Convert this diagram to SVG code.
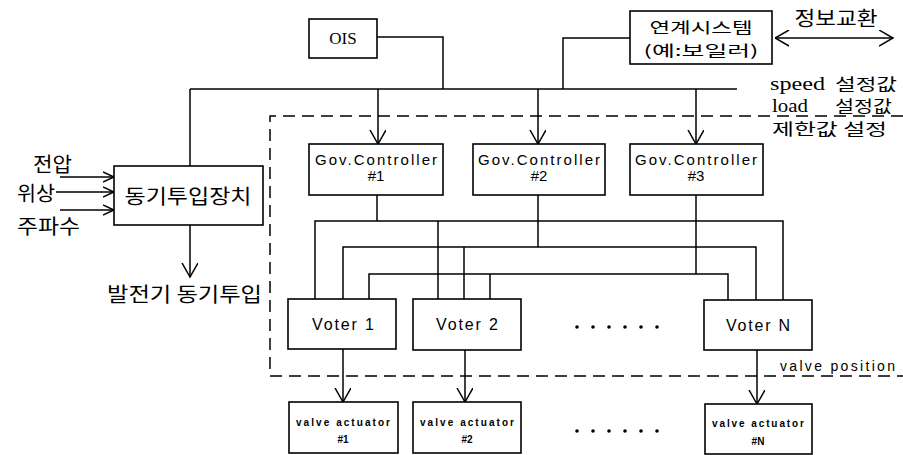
<svg xmlns="http://www.w3.org/2000/svg" width="903" height="455" viewBox="0 0 903 455">
<defs>
<style>
.box{fill:#fff;stroke:#000;stroke-width:1.6}
.ln{fill:none;stroke:#000;stroke-width:1.5}
.dash{fill:none;stroke:#000;stroke-width:1.5;stroke-dasharray:12 7}
.kr{font-family:"Noto Sans CJK KR","Noto Sans",sans-serif;font-size:20px;fill:#000}
.krs{font-family:"Noto Sans CJK KR","Noto Sans",sans-serif;font-size:16px;fill:#000}
.krx{font-family:"Noto Sans CJK KR","Noto Sans",sans-serif;font-size:15px;fill:#000}
.sr{font-family:"Liberation Serif",serif;fill:#000}
.ss{font-family:"Liberation Sans",Arial,sans-serif;fill:#000}
.gov{font-size:15px}
.vot{font-size:16px}
.va{font-size:10px;font-weight:bold}
.dot{fill:#000}
</style>
<marker id="ah" markerWidth="20" markerHeight="20" refX="14" refY="8" orient="auto" markerUnits="userSpaceOnUse">
<path d="M0,0 L14,8 L0,16" fill="none" stroke="#000" stroke-width="1.5"/>
</marker>
<marker id="ahs" markerWidth="14" markerHeight="14" refX="11" refY="6" orient="auto" markerUnits="userSpaceOnUse">
<path d="M0,1 L11,6 L0,11" fill="none" stroke="#000" stroke-width="1.4"/>
</marker>
<marker id="ahr" markerWidth="20" markerHeight="20" refX="0" refY="8" orient="auto" markerUnits="userSpaceOnUse">
<path d="M14,0 L0,8 L14,16" fill="none" stroke="#000" stroke-width="1.5"/>
</marker>
</defs>
<rect width="903" height="455" fill="#fff"/>

<!-- dashed boundary -->
<path class="dash" d="M903,116 L270,116 L270,376 L903,376"/>

<g id="connectors">
<path class="ln" d="M190,89 L737,89"/>
<path class="ln" d="M377,37 L443,37 L443,89"/>
<path class="ln" d="M630,38 L563,38 L563,89"/>
<path class="ln" d="M190,89 L190,166"/>
<path class="ln" d="M775,38 L893,38" marker-start="url(#ahr)" marker-end="url(#ah)"/>
<path class="ln" d="M378,89 L378,144" marker-end="url(#ah)"/>
<path class="ln" d="M538,89 L538,144" marker-end="url(#ah)"/>
<path class="ln" d="M696,89 L696,144" marker-end="url(#ah)"/>
<path class="ln" d="M60,177 L114,177" marker-end="url(#ahs)"/>
<path class="ln" d="M56,192 L114,192" marker-end="url(#ahs)"/>
<path class="ln" d="M60,210 L114,210" marker-end="url(#ahs)"/>
<path class="ln" d="M190,225 L190,277" marker-end="url(#ah)"/>
<path class="ln" d="M377,195 L377,221"/>
<path class="ln" d="M315,299 L315,221 L783,221 L783,300"/>
<path class="ln" d="M438,221 L438,299"/>
<path class="ln" d="M538,195 L538,247"/>
<path class="ln" d="M343,299 L343,247 L756,247 L756,300"/>
<path class="ln" d="M464,247 L464,299"/>
<path class="ln" d="M696,195 L696,274"/>
<path class="ln" d="M369,299 L369,274 L728,274 L728,300"/>
<path class="ln" d="M490,274 L490,299"/>
<path class="ln" d="M343,349 L343,402" marker-end="url(#ah)"/>
<path class="ln" d="M465,350 L465,402" marker-end="url(#ah)"/>
<path class="ln" d="M757,350 L757,404" marker-end="url(#ah)"/>
</g>

<g id="ois">
<rect class="box" x="309" y="19" width="68" height="39"/>
<text class="sr" x="343" y="38" font-size="17" text-anchor="middle" dominant-baseline="central">OIS</text>
</g>

<g id="linked-system">
<rect class="box" x="630" y="11" width="142" height="53"/>
<text class="krx" x="701" y="26" text-anchor="middle" dominant-baseline="central" textLength="103" lengthAdjust="spacingAndGlyphs">연계시스템</text>
<text class="krx" x="701" y="49" text-anchor="middle" dominant-baseline="central" textLength="115" lengthAdjust="spacingAndGlyphs">(예:보일러)</text>
</g>

<g id="info-label">
<text class="kr" x="836" y="17" text-anchor="middle" dominant-baseline="central" textLength="83" lengthAdjust="spacingAndGlyphs">정보교환</text>
</g>

<g id="setpoint-labels">
<text class="sr" x="770" y="83" font-size="19" dominant-baseline="central" textLength="55" lengthAdjust="spacingAndGlyphs">speed</text>
<text class="krs" x="835" y="83" dominant-baseline="central" textLength="62" lengthAdjust="spacingAndGlyphs">설정값</text>
<text class="sr" x="772" y="105" font-size="19" dominant-baseline="central" textLength="36" lengthAdjust="spacingAndGlyphs">load</text>
<text class="krs" x="835" y="105" dominant-baseline="central" textLength="57" lengthAdjust="spacingAndGlyphs">설정값</text>
<text class="krs" x="772" y="128" dominant-baseline="central" textLength="115" lengthAdjust="spacingAndGlyphs">제한값 설정</text>
</g>

<g id="sync-device">
<rect class="box" x="114" y="166" width="149" height="59"/>
<text class="kr" x="188" y="195" text-anchor="middle" dominant-baseline="central" textLength="127" lengthAdjust="spacingAndGlyphs">동기투입장치</text>
</g>

<g id="sync-inputs">
<text class="kr" x="33" y="163" dominant-baseline="central" textLength="39" lengthAdjust="spacingAndGlyphs">전압</text>
<text class="kr" x="17" y="192" dominant-baseline="central" textLength="38" lengthAdjust="spacingAndGlyphs">위상</text>
<text class="kr" x="17" y="225" dominant-baseline="central" textLength="63" lengthAdjust="spacingAndGlyphs">주파수</text>
</g>

<g id="sync-output">
<text class="kr" x="107" y="293" dominant-baseline="central" textLength="155" lengthAdjust="spacingAndGlyphs">발전기 동기투입</text>
</g>

<g id="gov1">
<rect class="box" x="309" y="144" width="134" height="51"/>
<text class="ss gov" x="376" y="159" text-anchor="middle" dominant-baseline="central" textLength="122" lengthAdjust="spacing">Gov.Controller</text>
<text class="ss gov" x="376" y="175" text-anchor="middle" dominant-baseline="central">#1</text>
</g>
<g id="gov2">
<rect class="box" x="473" y="144" width="132" height="51"/>
<text class="ss gov" x="539" y="159" text-anchor="middle" dominant-baseline="central" textLength="122" lengthAdjust="spacing">Gov.Controller</text>
<text class="ss gov" x="539" y="175" text-anchor="middle" dominant-baseline="central">#2</text>
</g>
<g id="gov3">
<rect class="box" x="630" y="144" width="133" height="51"/>
<text class="ss gov" x="696" y="159" text-anchor="middle" dominant-baseline="central" textLength="122" lengthAdjust="spacing">Gov.Controller</text>
<text class="ss gov" x="696" y="175" text-anchor="middle" dominant-baseline="central">#3</text>
</g>

<g id="voter1">
<rect class="box" x="288" y="299" width="108" height="50"/>
<text class="ss vot" x="343" y="324" text-anchor="middle" dominant-baseline="central" textLength="62" lengthAdjust="spacing">Voter 1</text>
</g>
<g id="voter2">
<rect class="box" x="413" y="299" width="108" height="51"/>
<text class="ss vot" x="467" y="324" text-anchor="middle" dominant-baseline="central" textLength="62" lengthAdjust="spacing">Voter 2</text>
</g>
<g id="voterN">
<rect class="box" x="704" y="300" width="108" height="50"/>
<text class="ss vot" x="758" y="325" text-anchor="middle" dominant-baseline="central" textLength="64" lengthAdjust="spacing">Voter N</text>
</g>

<g id="dots-voters">
<circle class="dot" cx="577" cy="327" r="1.8"/><circle class="dot" cx="593" cy="327" r="1.8"/><circle class="dot" cx="609" cy="327" r="1.8"/><circle class="dot" cx="625" cy="327" r="1.8"/><circle class="dot" cx="641" cy="327" r="1.8"/><circle class="dot" cx="657" cy="327" r="1.8"/>
</g>

<g id="valve-position-label">
<text class="ss" x="780" y="366" font-size="14" dominant-baseline="central" textLength="115" lengthAdjust="spacing">valve position</text>
</g>

<g id="va1">
<rect class="box" x="289" y="402" width="109" height="51"/>
<text class="ss va" x="343" y="422" text-anchor="middle" dominant-baseline="central" textLength="94" lengthAdjust="spacing">valve actuator</text>
<text class="ss va" x="343" y="439" text-anchor="middle" dominant-baseline="central">#1</text>
</g>
<g id="va2">
<rect class="box" x="413" y="402" width="108" height="51"/>
<text class="ss va" x="467" y="422" text-anchor="middle" dominant-baseline="central" textLength="94" lengthAdjust="spacing">valve actuator</text>
<text class="ss va" x="467" y="439" text-anchor="middle" dominant-baseline="central">#2</text>
</g>
<g id="vaN">
<rect class="box" x="705" y="404" width="107" height="50"/>
<text class="ss va" x="758" y="423" text-anchor="middle" dominant-baseline="central" textLength="92" lengthAdjust="spacing">valve actuator</text>
<text class="ss va" x="758" y="441" text-anchor="middle" dominant-baseline="central">#N</text>
</g>

<g id="dots-actuators">
<circle class="dot" cx="577" cy="431" r="1.8"/><circle class="dot" cx="593" cy="431" r="1.8"/><circle class="dot" cx="609" cy="431" r="1.8"/><circle class="dot" cx="625" cy="431" r="1.8"/><circle class="dot" cx="641" cy="431" r="1.8"/><circle class="dot" cx="657" cy="431" r="1.8"/>
</g>
</svg>
